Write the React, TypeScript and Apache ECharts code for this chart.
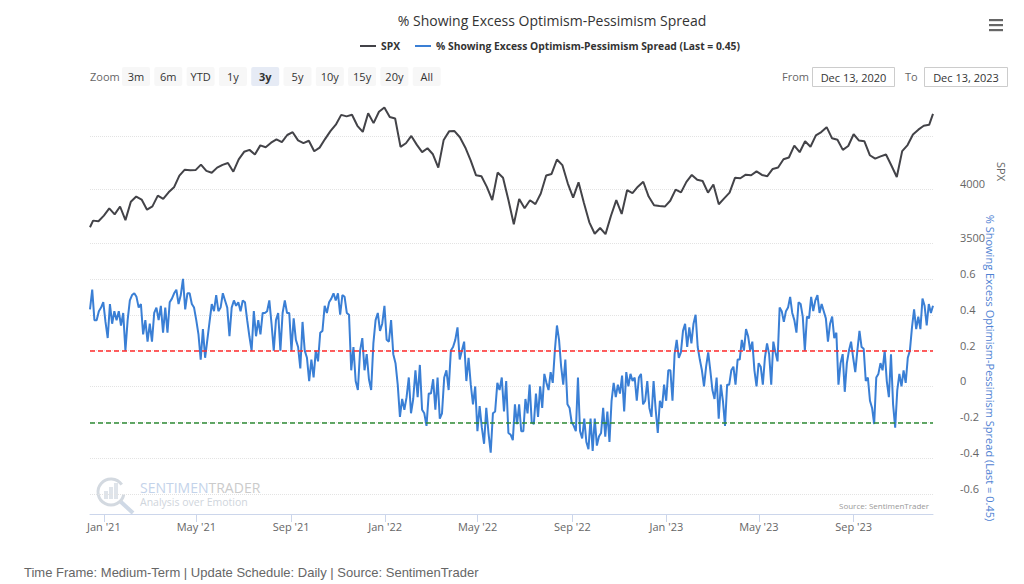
import React, { useEffect, useRef } from "react";
import * as echarts from "echarts";

const TITLE = "% Showing Excess Optimism-Pessimism Spread";
const SPX_NAME = "SPX";
const SPREAD_NAME = "% Showing Excess Optimism-Pessimism Spread (Last = 0.45)";
const FOOTER = "Time Frame: Medium-Term | Update Schedule: Daily | Source: SentimenTrader";

const X_START = "2020-12-14";
const X_END = "2023-12-13";
const X_TICKS = ["2021-01-01", "2021-05-01", "2021-09-01", "2022-01-01", "2022-05-01", "2022-09-01", "2023-01-01", "2023-05-01", "2023-09-01"];
const MONTHS = ["Jan", "Feb", "Mar", "Apr", "May", "Jun", "Jul", "Aug", "Sep", "Oct", "Nov", "Dec"];

const SPX_TICKS_SHOWN = [3500, 4000];
const SPREAD_TICKS = [-0.6, -0.4, -0.2, 0, 0.2, 0.4, 0.6];

// SPX: first day, weekly closes (Fridays from 2020-12-18), last day
const SPX_FIRST: [string, number] = ["2020-12-14", 3647];
const SPX_WEEKLY_START = "2020-12-18";
const SPX_WEEKLY = [
  3709, 3703, 3756,
  3824, 3768, 3841, 3714, 3886, 3934, 3906, 3811, 3842, 3943, 3913, 3974, 4020, 4129, 4185, 4180, 4181, 4232, 4174, 4156, 4204, 4230, 4247, 4166, 4281, 4352, 4370, 4327, 4412, 4395, 4437, 4468, 4442, 4509, 4535, 4459, 4433, 4455, 4357, 4391, 4471, 4545, 4605, 4697, 4683, 4698, 4595, 4538, 4712, 4620, 4726, 4766,
  4677, 4663, 4398, 4432, 4500, 4419, 4349, 4385, 4329, 4204, 4463, 4543, 4546, 4488, 4393, 4272, 4132, 4123, 4024, 3901, 4158, 4109, 3901, 3675, 3912, 3825, 3899, 3863, 3962, 4130, 4145, 4280, 4228, 4058, 3924, 4067, 3873, 3693, 3586, 3640, 3583, 3752, 3901, 3771, 3993, 3965, 4026, 4072, 3934, 3852, 3845, 3840,
  3895, 3999, 3973, 4071, 4136, 4090, 4079, 3970, 4046, 3862, 3917, 3971, 4109, 4105, 4138, 4133, 4169, 4136, 4124, 4192, 4205, 4282, 4299, 4410, 4348, 4450, 4399, 4505, 4536, 4582, 4478, 4464, 4370, 4406, 4516, 4457, 4450, 4320, 4288, 4309, 4327, 4224, 4117, 4358, 4415, 4514, 4559, 4595, 4604,
];
const SPX_LAST: [string, number] = ["2023-12-13", 4707];

// Spread in two stretches, evenly spaced within each
const SPREAD_PART1_RANGE = ["2020-12-14", "2022-06-10"];
const SPREAD_PART1 = [
  0.43, 0.54, 0.37, 0.37, 0.42, 0.44, 0.47, 0.36, 0.27, 0.46,
  0.35, 0.42, 0.37, 0.42, 0.34, 0.41, 0.20, 0.37, 0.48, 0.51,
  0.52, 0.50, 0.44, 0.46, 0.29, 0.37, 0.25, 0.35, 0.25, 0.41,
  0.44, 0.37, 0.45, 0.30, 0.44, 0.30, 0.47, 0.49, 0.52, 0.54,
  0.46, 0.51, 0.60, 0.43, 0.52, 0.52, 0.46, 0.44, 0.37, 0.29,
  0.15, 0.32, 0.16, 0.26, 0.36, 0.46, 0.42, 0.51, 0.42, 0.44,
  0.52, 0.48, 0.44, 0.28, 0.44, 0.48, 0.45, 0.47, 0.42, 0.48,
  0.47, 0.37, 0.28, 0.20, 0.42, 0.28, 0.37, 0.29, 0.41, 0.41,
  0.42, 0.48, 0.35, 0.20, 0.37, 0.41, 0.20, 0.41, 0.48, 0.41,
  0.41, 0.20, 0.38, 0.26, 0.22, 0.10, 0.36, 0.20, 0.16, 0.03,
  0.15, 0.05, 0.20, 0.14, 0.30, 0.31, 0.45, 0.41, 0.47, 0.49,
  0.52, 0.48, 0.52, 0.40, 0.51, 0.50, 0.41, 0.40, 0.09, 0.22,
  0.03, -0.02, 0.20, 0.27, 0.09, 0.18, 0.04, -0.02, 0.24, 0.37,
  0.41, 0.31, 0.35, 0.45, 0.26, 0.25, 0.37, 0.18, 0.13, 0.01,
  -0.17, -0.07, -0.13, -0.06, 0.05, -0.15, -0.07, 0.09, -0.06, 0.12,
  -0.13, -0.15, -0.22, -0.04, -0.04, 0.04, -0.13, 0.05, -0.18, -0.15,
  0.05, 0.09, -0.02, 0.20, 0.22, 0.26, 0.33, 0.15, 0.20, 0.25,
  0.03, 0.16, 0.01, -0.10, 0.00, -0.25, -0.11, -0.23, -0.32, -0.12,
  -0.26, -0.37, -0.15, -0.14, 0.02, -0.02, 0.05, -0.14, 0.03, -0.26,
];
const SPREAD_PART2_RANGE = ["2022-06-13", "2023-12-13"];
const SPREAD_PART2 = [
  -0.27, -0.30, -0.10, -0.21, -0.10, -0.25, -0.25, -0.07, -0.15, 0.01,
  -0.20, -0.21, -0.04, -0.17, 0.00, -0.12, 0.07, 0.02, -0.02, 0.08,
  0.02, 0.20, 0.34, 0.26, 0.11, 0.01, 0.15, -0.10, -0.12, -0.20,
  -0.22, -0.25, 0.05, -0.25, -0.29, -0.18, -0.31, -0.35, -0.18, -0.36,
  -0.18, -0.33, -0.28, -0.26, -0.12, -0.28, -0.14, -0.31, -0.08, 0.02,
  -0.06, 0.01, -0.04, 0.06, -0.14, 0.08, 0.00, 0.07, 0.03, 0.05,
  -0.08, 0.05, 0.07, -0.10, -0.08, 0.03, -0.12, -0.17, 0.03, -0.13,
  -0.26, -0.08, -0.12, 0.01, -0.08, 0.09, 0.09, -0.08, 0.18, 0.26,
  0.16, 0.19, 0.31, 0.35, 0.22, 0.33, 0.24, 0.35, 0.40, 0.22,
  0.15, 0.09, 0.00, 0.11, 0.19, 0.09, -0.02, -0.07, 0.05, -0.18,
  0.01, -0.08, -0.22, 0.01, 0.01, 0.09, 0.11, 0.01, 0.15, 0.15,
  0.26, 0.20, 0.32, 0.28, 0.20, 0.25, 0.09, 0.00, 0.13, 0.11,
  0.01, 0.16, 0.24, 0.18, 0.01, 0.25, 0.19, 0.14, 0.44, 0.42,
  0.36, 0.42, 0.44, 0.50, 0.41, 0.37, 0.30, 0.47, 0.46, 0.39,
  0.20, 0.39, 0.38, 0.50, 0.42, 0.48, 0.51, 0.41, 0.46, 0.42,
  0.38, 0.25, 0.35, 0.39, 0.27, 0.30, 0.01, 0.13, 0.18, -0.03,
  0.13, 0.20, 0.25, 0.16, 0.08, 0.20, 0.31, 0.22, 0.21, 0.03,
  0.05, -0.08, -0.12, -0.21, 0.05, 0.07, 0.13, 0.09, 0.20, 0.03,
  -0.06, 0.18, -0.10, -0.23, -0.02, 0.07, 0.00, 0.09, 0.02, 0.16,
  0.20, 0.33, 0.43, 0.32, 0.39, 0.32, 0.49, 0.45, 0.34, 0.46,
  0.41, 0.45,
];

const THRESHOLD_HIGH = 0.2;
const THRESHOLD_LOW = -0.2;

const ZOOM_BUTTONS = ["3m", "6m", "YTD", "1y", "3y", "5y", "10y", "15y", "20y", "All"];
const ZOOM_SELECTED = "3y";
const RANGE_FROM = "Dec 13, 2020";
const RANGE_TO = "Dec 13, 2023";

const DAY = 86400000;
const ts = (s: string) => {
  const [y, m, d] = s.split("-").map(Number);
  return Date.UTC(y, m - 1, d);
};

function buildSpx(): [number, number][] {
  const out: [number, number][] = [[ts(SPX_FIRST[0]), SPX_FIRST[1]]];
  const w0 = ts(SPX_WEEKLY_START);
  SPX_WEEKLY.forEach((v, i) => out.push([w0 + i * 7 * DAY, v]));
  out.push([ts(SPX_LAST[0]), SPX_LAST[1]]);
  return out;
}

function spread(range: string[], values: number[]): [number, number][] {
  const a = ts(range[0]);
  const b = ts(range[1]);
  return values.map((v, i) => [a + ((b - a) * i) / (values.length - 1), v]);
}

const FONT = "'Open Sans', 'Noto Sans', sans-serif";

export default function App() {
  const ref = useRef<HTMLDivElement>(null);
  useEffect(() => {
    if (!ref.current) return;
    const chart = echarts.init(ref.current, undefined, { renderer: "svg" });
    const xMin = ts(X_START);
    const xMax = ts(X_END);
    const tickTs = X_TICKS.map(ts);
    const spxData = buildSpx();
    const spreadData = [...spread(SPREAD_PART1_RANGE, SPREAD_PART1), ...spread(SPREAD_PART2_RANGE, SPREAD_PART2)];

    const graphics: any[] = [];
    graphics.push({ type: "text", x: 90, y: 76.5, style: { text: "Zoom", fill: "#666", font: `11px ${FONT}`, verticalAlign: "middle" } });
    ZOOM_BUTTONS.forEach((b, i) => {
      const x0 = 122 + i * 32.3;
      const sel = b === ZOOM_SELECTED;
      graphics.push({ type: "rect", shape: { x: x0, y: 67, width: 28, height: 19, r: 2 }, style: { fill: sel ? "#e6ebf5" : "#f7f7f7" } });
      graphics.push({
        type: "text", x: x0 + 14, y: 76.5,
        style: { text: b, fill: "#333", font: `${sel ? "bold " : ""}11px ${FONT}`, align: "center", verticalAlign: "middle" },
      });
    });
    graphics.push({ type: "text", x: 782, y: 76.5, style: { text: "From", fill: "#666", font: `11px ${FONT}`, verticalAlign: "middle" } });
    graphics.push({ type: "rect", shape: { x: 812.5, y: 67.5, width: 82, height: 19 }, style: { fill: "#fff", stroke: "#cccccc", lineWidth: 1 } });
    graphics.push({ type: "text", x: 853.5, y: 77, style: { text: RANGE_FROM, fill: "#333", font: `11px ${FONT}`, align: "center", verticalAlign: "middle" } });
    graphics.push({ type: "text", x: 905, y: 76.5, style: { text: "To", fill: "#666", font: `11px ${FONT}`, verticalAlign: "middle" } });
    graphics.push({ type: "rect", shape: { x: 924.5, y: 67.5, width: 83, height: 19 }, style: { fill: "#fff", stroke: "#cccccc", lineWidth: 1 } });
    graphics.push({ type: "text", x: 966, y: 77, style: { text: RANGE_TO, fill: "#333", font: `11px ${FONT}`, align: "center", verticalAlign: "middle" } });
    [19, 24, 29].forEach((y) => graphics.push({ type: "rect", shape: { x: 989, y, width: 14, height: 2.2 }, style: { fill: "#666" } }));
    graphics.push({
      type: "text", x: 990, y: 368, rotation: -Math.PI / 2,
      style: { text: SPREAD_NAME, fill: "#4f82d3", font: `11px ${FONT}`, align: "center", verticalAlign: "middle" },
    });
    graphics.push({ type: "arc", shape: { cx: 111, cy: 492, r: 13, startAngle: 0.2, endAngle: Math.PI * 2 - 0.6 }, style: { stroke: "#d3d9e0", lineWidth: 3, fill: "none" } });
    [[104, 491, 4, 8], [109, 487, 4, 12], [114, 483, 4, 16]].forEach(([x, y, w, h]) =>
      graphics.push({ type: "rect", shape: { x, y, width: w, height: h }, style: { fill: "#dfe4ea" } })
    );
    graphics.push({ type: "line", shape: { x1: 121, y1: 502, x2: 133, y2: 513 }, style: { stroke: "#cfd9e6", lineWidth: 4 } });
    graphics.push({
      type: "text", x: 140, y: 487,
      style: {
        text: "{a|SENTIMEN}{b|TRADER}", verticalAlign: "middle",
        rich: { a: { fill: "#c4d3ea", fontSize: 14, fontFamily: FONT, lineHeight: 13 }, b: { fill: "#cbcbcb", fontSize: 14, fontFamily: FONT, lineHeight: 13 } },
      },
    });
    graphics.push({ type: "text", x: 140, y: 502, style: { text: "Analysis over Emotion", fill: "#cfd5dc", font: `10.5px ${FONT}`, verticalAlign: "middle" } });
    graphics.push({ type: "text", x: 839, y: 505, style: { text: "Source: SentimenTrader", fill: "#999", font: `8px ${FONT}`, verticalAlign: "middle" } });
    graphics.push({ type: "text", x: 24, y: 572, style: { text: FOOTER, fill: "#666", font: "13px 'Liberation Sans', Arial, sans-serif", verticalAlign: "middle" } });

    const option: any = {
      animation: false,
      textStyle: { fontFamily: FONT },
      title: {
        text: TITLE, left: 547, top: 8, textAlign: "center",
        textStyle: { fontSize: 14, fontWeight: "normal", color: "#333", fontFamily: FONT },
      },
      legend: {
        left: 355, top: 36, icon: "rect", itemWidth: 16, itemHeight: 2, itemGap: 15,
        textStyle: { fontSize: 10.3, fontWeight: "bold", color: "#333", fontFamily: FONT },
        data: [SPX_NAME, SPREAD_NAME],
        selectedMode: false,
      },
      grid: [
        { left: 90, right: 91, top: 100, height: 143 },
        { left: 90, right: 91, top: 268, height: 246 },
      ],
      xAxis: [
        { gridIndex: 0, type: "value", min: xMin, max: xMax, show: false, splitLine: { show: false } },
        {
          gridIndex: 1, type: "value", min: xMin, max: xMax,
          axisLine: { show: true, onZero: false, lineStyle: { color: "#ccd6eb" } },
          axisTick: { show: true, length: 8, lineStyle: { color: "#ccd6eb" }, customValues: tickTs },
          axisLabel: {
            customValues: tickTs, color: "#666", fontSize: 11, margin: 7,
            formatter: (v: number) => {
              const d = new Date(v);
              return `${MONTHS[d.getUTCMonth()]} '${String(d.getUTCFullYear()).slice(2)}`;
            },
          },
          splitLine: { show: false },
        },
      ],
      yAxis: [
        {
          gridIndex: 0, type: "value", position: "right", min: 3500, max: 4836,
          minInterval: 500, maxInterval: 500, splitNumber: 3,
          axisLine: { show: false }, axisTick: { show: false },
          axisLabel: {
            color: "#666", fontSize: 11, margin: 27, verticalAlign: "bottom",
            formatter: (v: number) => (SPX_TICKS_SHOWN.some((t) => Math.abs(t - v) < 1e-6) ? String(Math.round(v)) : ""),
          },
          splitLine: { show: true, showMinLine: true, showMaxLine: false, lineStyle: { color: "#e3e3e3", type: "dotted" } },
          name: SPX_NAME, nameLocation: "middle", nameRotate: -90, nameGap: 52,
          nameTextStyle: { color: "#666", fontSize: 11 },
        },
        {
          gridIndex: 1, type: "value", position: "right", min: -0.712, max: 0.661,
          minInterval: 0.2, maxInterval: 0.2, splitNumber: 6,
          axisLine: { show: false }, axisTick: { show: false },
          axisLabel: {
            color: "#666", fontSize: 11, margin: 27, verticalAlign: "bottom",
            formatter: (v: number) => {
              const t = SPREAD_TICKS.find((s) => Math.abs(s - v) < 1e-6);
              if (t === undefined) return "";
              return t === 0 ? "0" : t.toFixed(1);
            },
          },
          splitLine: { show: true, showMinLine: false, showMaxLine: false, lineStyle: { color: "#e3e3e3", type: "dotted" } },
        },
      ],
      series: [
        {
          type: "line", name: SPX_NAME, xAxisIndex: 0, yAxisIndex: 0, data: spxData,
          showSymbol: false, symbol: "none", silent: true, z: 3,
          lineStyle: { width: 2, color: "#434348" }, itemStyle: { color: "#434348" },
        },
        {
          type: "line", name: SPREAD_NAME, xAxisIndex: 1, yAxisIndex: 1, data: spreadData,
          showSymbol: false, symbol: "none", silent: true, z: 3,
          lineStyle: { width: 2, color: "#3a7fd5" }, itemStyle: { color: "#3a7fd5" },
          markLine: {
            silent: true, symbol: ["none", "none"], label: { show: false },
            data: [
              { yAxis: THRESHOLD_HIGH, lineStyle: { color: "#ff2b2b", type: [5, 3], width: 1.5 } },
              { yAxis: THRESHOLD_LOW, lineStyle: { color: "#2e8b35", type: [5, 3], width: 1.5 } },
            ],
          },
        },
      ],
      graphic: graphics,
    };
    chart.setOption(option);
    return () => chart.dispose();
  }, []);
  return <div ref={ref} style={{ position: "absolute", left: 0, top: 0, width: 1024, height: 584, background: "#fff" }} />;
}
